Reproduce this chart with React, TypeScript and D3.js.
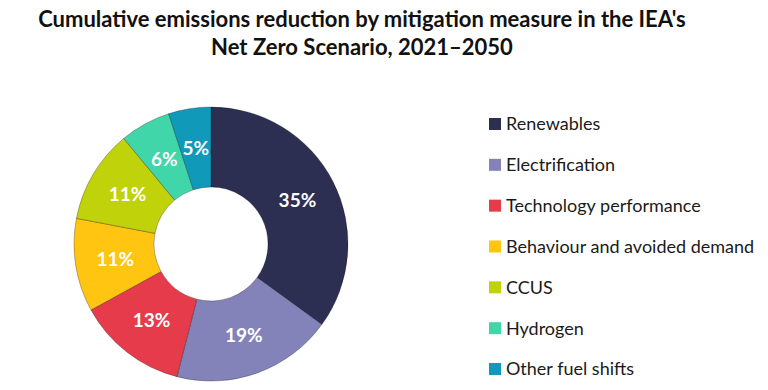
import * as d3 from 'd3';

// chart data
const measures: string[] = [
	'Renewables',
	'Electrification',
	'Technology performance',
	'Behaviour and avoided demand',
	'CCUS',
	'Hydrogen',
	'Other fuel shifts'
];
const shares: number[] = [35, 19, 13, 11, 11, 6, 5];
const colors: string[] = ['#2c2f52', '#8383b9', '#e63b4b', '#ffc511', '#bfd20a', '#40d6a9', '#1199b9'];
const titleLines: string[] = [
	"Cumulative emissions reduction by mitigation measure in the IEA's",
	'Net Zero Scenario, 2021\u20132050'
];

const width = 768;
const height = 390;
const cx = 211;
const cy = 244;
const outerRadius = 137;
const innerRadius = 57;
const font = 'Lato, "Open Sans", sans-serif';

function App() {
	const pieGenerator = d3
		.pie<number>()
		.sort(null)
		.value((d) => d);
	const arcs = pieGenerator(shares);
	const arcGenerator = d3.arc<d3.PieArcDatum<number>>().innerRadius(innerRadius).outerRadius(outerRadius);

	const legendY = d3.scalePoint<string>().domain(measures).range([124, 369]);

	return (
		<svg
			width={width}
			height={height}
			style={{ position: 'absolute', left: 0, top: 0, background: '#fff' }}
			fontFamily={font}
		>
			{titleLines.map((t, i) => (
				<text
					key={t}
					x={362}
					y={27 + i * 28}
					textAnchor='middle'
					fontSize={22}
					fontWeight='bold'
					fill='#111'
				>
					{t}
				</text>
			))}
			<g transform={`translate(${cx}, ${cy})`}>
				{arcs.map((a, i) => (
					<path key={measures[i]} d={arcGenerator(a) ?? ''} fill={colors[i]} stroke='rgba(0,0,0,0.35)' strokeWidth={0.8} />
				))}
				{arcs.map((a, i) => {
					const [x, y] = arcGenerator.centroid(a);
					return (
						<text
							key={`l-${measures[i]}`}
							x={x}
							y={y}
							dy='0.36em'
							textAnchor='middle'
							fontSize={19}
							fontWeight='bold'
							fill='#fff'
						>
							{`${a.data}%`}
						</text>
					);
				})}
			</g>
			{measures.map((m, i) => (
				<g key={`lg-${m}`} transform={`translate(489, ${legendY(m)})`}>
					<rect x={0} y={-6} width={12} height={12} fill={colors[i]} />
					<text x={17} y={0} dy='0.36em' fontSize={18} fill='#1a1a1a'>
						{m}
					</text>
				</g>
			))}
		</svg>
	);
}

export default App;
